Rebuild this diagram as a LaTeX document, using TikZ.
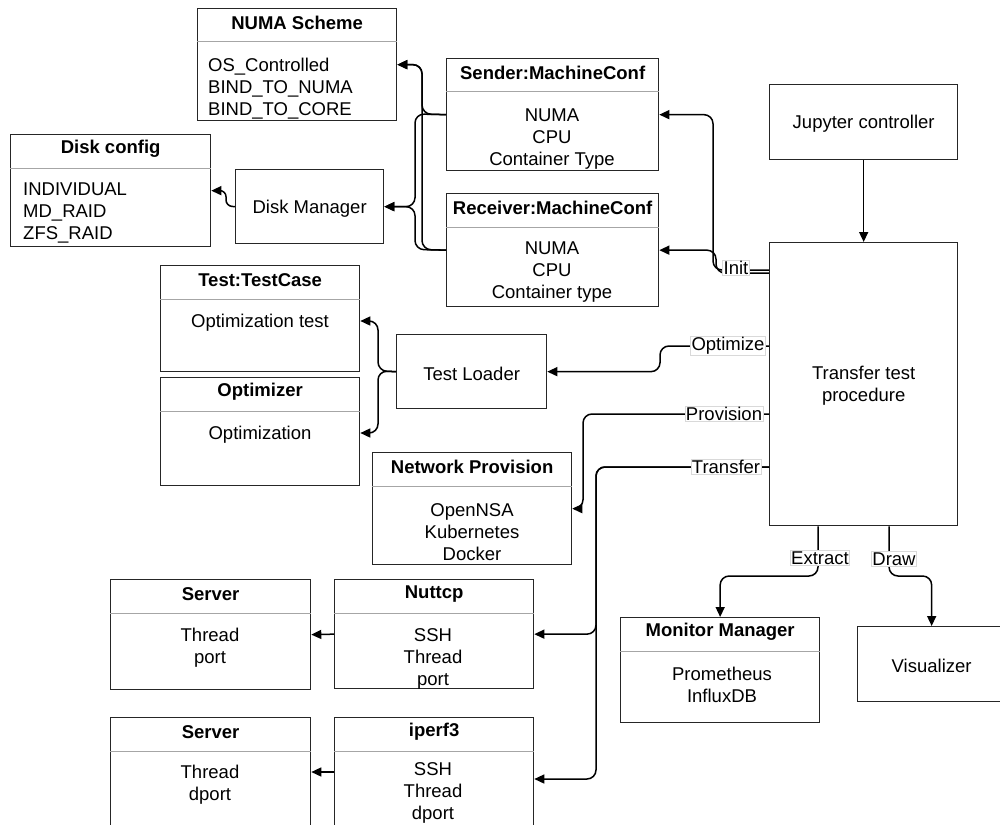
\documentclass[tikz,border=0pt]{standalone}
\usepackage{fontspec}
\setmainfont{Liberation Sans}
\usetikzlibrary{arrows.meta}
\begin{document}
\begin{tikzpicture}[x=1pt,y=-1pt,
  every node/.style={font=\fontsize{18.5}{22}\selectfont, inner sep=0pt},
  txt/.style={yshift=-2pt, align=center},
  frame/.style={draw=black!85, line width=1.3pt, anchor=north west},
  divider/.style={draw=black!35, line width=1pt},
  titletext/.style={txt, font=\fontsize{18.5}{22}\selectfont\bfseries},
  conn/.style={draw=black, line width=1.5pt, rounded corners=9pt},
  arr/.style={conn, -{Triangle[length=10pt,width=9pt]}},
  lbl/.style={fill=white, draw=black!15, line width=0.6pt, inner sep=1pt}
]
\newcommand\classbox[6]{%
  \node[frame, minimum width=#4, minimum height=#5] (#1) at (#2,#3) {};
  \draw[divider] ([yshift=-34pt]#1.north west) -- ([yshift=-34pt]#1.north east);
  \node[titletext] (#1-title) at ([yshift=-13pt]#1.north) {#6};
}
\newcommand\plainbox[6]{%
  \node[frame, minimum width=#4, minimum height=#5] (#1) at (#2,#3) {};
  \node[txt] (#1-text) at (#1.center) {#6};
}
\useasboundingbox (0,0) rectangle (1000,824);
\clip (0,0) rectangle (1000,824);

% ---- class-style boxes ----
\classbox{numa}{197}{8}{199}{112}{NUMA Scheme}
\node[txt, align=left, anchor=west] (numa-body) at (208,87) {OS\_Controlled\\BIND\_TO\_NUMA\\BIND\_TO\_CORE};

\classbox{sender}{446}{58}{212}{112}{Sender:MachineConf}
\node[txt] (sender-body) at (552,137) {NUMA\\CPU\\Container Type};

\classbox{receiver}{446}{193}{212}{113}{Receiver:MachineConf}
\node[txt] (receiver-body) at (552,270) {NUMA\\CPU\\Container type};

\classbox{diskcfg}{10}{134}{200}{112}{Disk config}
\node[txt, align=left, anchor=west] (diskcfg-body) at (23,211) {INDIVIDUAL\\MD\_RAID\\ZFS\_RAID};

\classbox{testcase}{160}{265}{199}{106}{Test:TestCase}
\node[txt] (testcase-body) at (260,321) {Optimization test};

\classbox{optimizer}{160}{377}{199}{108}{Optimizer}
\node[txt] (optimizer-body) at (260,433) {Optimization};

\classbox{netprov}{372}{452}{199}{112}{Network Provision}
\node[txt] (netprov-body) at (472,530) {OpenNSA\\Kubernetes\\Docker};

\classbox{server1}{110}{579}{200}{110}{Server}
\node[txt] (server1-body) at (210,646) {Thread\\port};

\classbox{nuttcp}{334}{579}{199}{109}{Nuttcp}
\node[txt] (nuttcp-body) at (433,657) {SSH\\Thread\\port};

\classbox{server2}{110}{717}{200}{124}{Server}
\node[txt] (server2-body) at (210,783) {Thread\\dport};

\classbox{iperf}{334}{717}{199}{124}{iperf3}
\node[txt] (iperf-body) at (433,791) {SSH\\Thread\\dport};

\classbox{monitor}{620}{617}{199}{105}{Monitor Manager}
\node[txt] (monitor-body) at (722,683) {Prometheus\\InfluxDB};

% ---- plain boxes ----
\plainbox{diskmgr}{235}{169}{148}{74}{Disk Manager}
\plainbox{loader}{396}{334}{150}{74}{Test Loader}
\plainbox{jupyter}{769}{84}{188}{75}{Jupyter controller}
\plainbox{transfer}{769}{242}{188}{283}{Transfer test\\procedure}
\plainbox{visual}{857}{626}{148}{75}{Visualizer}

% ---- connectors ----
\draw[arr] (jupyter.south) -- (transfer.north);

% Init: double line splitting to both machine configurations
\draw[arr] (transfer.west |- 0,270) -- (713,270) |- (sender.east);
\draw[arr] (transfer.west |- 0,273) -- (716,273) |- (receiver.east);

\draw[arr] (transfer.west |- 0,346) -- (660,346) |- (loader.east);
\draw[arr] (transfer.west |- 0,414) -- (583,414) |- (netprov.east);
\draw[arr] (transfer.west |- 0,467) -- (596,467) |- (nuttcp.east);
\draw[arr] (transfer.west |- 0,467) -- (596,467) |- (iperf.east |- 0,779);

\draw[arr] (transfer.south -| 818,0) -- (818,576) -| (monitor.north);
\draw[arr] (transfer.south -| 889,0) -- (889,576) -| (visual.north);

% machine configurations to NUMA scheme and disk manager
\draw[arr] (sender.west) -- (422,114) |- (numa.east);
\draw[arr] (receiver.west) -- (422,249.5) |- (numa.east);
\draw[arr] (sender.west) -- (415,114) |- (diskmgr.east);
\draw[arr] (receiver.west) -- (415,249.5) |- (diskmgr.east);
\draw[arr, rounded corners=6pt] (diskmgr.west) -- (226,206) |- (diskcfg.east);

% test loader to its test case and optimizer
\draw[arr] (loader.west) -- (378,371) |- (testcase.east |- 0,321);
\draw[arr] (loader.west) -- (378,371) |- (optimizer.east |- 0,433);

% tools to their servers
\draw[arr] (nuttcp.west) -- (server1.east);
\draw[arr] (iperf.west |- 0,772) -- (server2.east |- 0,772);

% ---- connector labels ----
\node[lbl] (l-init) at (736,268) {Init};
\node[lbl] (l-opt) at (728,346) {Optimize};
\node[lbl] (l-prov) at (724,414) {Provision};
\node[lbl] (l-trans) at (726,467) {Transfer};
\node[lbl] (l-extract) at (820,558) {Extract};
\node[lbl] (l-draw) at (894,559) {Draw};
\end{tikzpicture}
\end{document}
